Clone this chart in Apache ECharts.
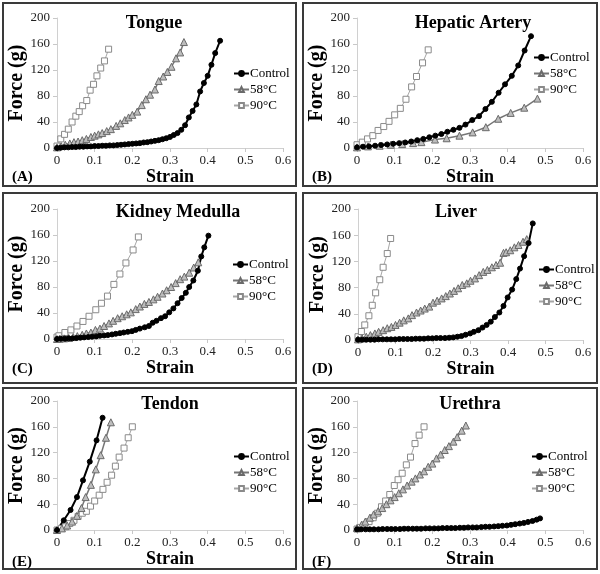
<!DOCTYPE html>
<html><head><meta charset="utf-8">
<script src="https://cdn.jsdelivr.net/npm/echarts@6/dist/echarts.min.js"></script>
<style>html,body{margin:0;padding:0;background:#fff}#c{width:600px;height:574px}</style>
</head><body><div id="c"></div>
<script>
// ---------- data ----------
const panelTitles = ['Tongue','Hepatic Artery','Kidney Medulla','Liver','Tendon','Urethra'];
const panelLetters = ['(A)','(B)','(C)','(D)','(E)','(F)'];
const seriesNames = ['Control','58°C','90°C'];
const xTicks = [0,0.1,0.2,0.3,0.4,0.5,0.6];
const yTicks = [0,40,80,120,160,200];

// (A) Tongue
const tongueControlStrain = [0,0.01,0.02,0.03,0.04,0.05,0.06,0.07,0.08,0.09,0.10,0.11,0.12,0.13,0.14,0.15,0.16,0.17,0.18,0.19,0.20,0.21,0.22,0.23,0.24,0.25,0.26,0.27,0.28,0.29,0.30,0.31,0.32,0.33,0.34,0.35,0.36,0.37,0.38,0.39,0.40,0.41,0.42,0.433];
const tongueControlForce  = [0,0.5,1,1,1.5,1.5,2,2,2.5,2.5,3,3,3.5,3.5,4,4,4.5,5,5.5,6,6.5,7,7.5,8.5,9,10,11,12,13.5,15,17,20,23,28,35,47,57,67,87,100,111,128,146,165];
const tongue58Strain = [0,0.011,0.022,0.034,0.045,0.056,0.067,0.078,0.09,0.1,0.11,0.12,0.132,0.143,0.157,0.168,0.18,0.19,0.2,0.213,0.225,0.236,0.247,0.26,0.27,0.282,0.293,0.304,0.316,0.327,0.337];
const tongue58Force  = [1,3,5,7,9,10,12,14,17,19,21,23,26,29,34,38,43,47,51,56,66,75,82,90,103,110,117,125,138,147,163];
const tongue90Strain = [0,0.01,0.02,0.03,0.04,0.05,0.059,0.068,0.079,0.088,0.097,0.106,0.116,0.126,0.137];
const tongue90Force  = [3,14,21,29,40,49,56,65,73,89,98,111,123,134,152];

// (B) Hepatic Artery
const hepaticControlStrain = [0,0.016,0.032,0.048,0.064,0.08,0.096,0.112,0.128,0.144,0.16,0.176,0.192,0.208,0.224,0.24,0.256,0.272,0.288,0.306,0.324,0.341,0.358,0.376,0.393,0.411,0.428,0.445,0.462];
const hepaticControlForce  = [1,2,2.5,3.5,4.5,5.5,6.5,7.5,8.5,10,12,14,16.5,19,21.5,25,28,31,36,43,49,60,71,85,98,111,127,150,172];
const hepatic58Strain = [0,0.029,0.06,0.09,0.12,0.149,0.171,0.207,0.238,0.272,0.307,0.342,0.375,0.408,0.444,0.479];
const hepatic58Force  = [1,2.5,3.5,5,6,7.5,9,13,15,19,24,32,45,54,62,76];
const hepatic90Strain = [0,0.014,0.028,0.042,0.056,0.071,0.085,0.1,0.115,0.13,0.145,0.158,0.174,0.189];
const hepatic90Force  = [5,9,14,19,27,33,41,51,61,75,94,110,131,151];

// (C) Kidney Medulla
const kidneyControlStrain = [0,0.01,0.021,0.031,0.041,0.052,0.062,0.072,0.083,0.093,0.104,0.114,0.125,0.135,0.146,0.156,0.167,0.177,0.188,0.199,0.209,0.22,0.233,0.244,0.254,0.264,0.276,0.287,0.298,0.309,0.32,0.331,0.342,0.351,0.362,0.374,0.383,0.391,0.402];
const kidneyControlForce  = [0,0.5,0.5,1,1,1.5,2,2.5,3,3.5,4,5,5.5,6,7,8,9,10,11,12,14,16,18,20,25,28,32,35,41,47,55,63,71,80,90,105,127,141,159];
const kidney58Strain = [0,0.007,0.019,0.031,0.043,0.054,0.067,0.078,0.09,0.102,0.114,0.125,0.138,0.149,0.161,0.173,0.185,0.196,0.209,0.22,0.232,0.244,0.256,0.267,0.28,0.291,0.303,0.315,0.327,0.338,0.351,0.363,0.375];
const kidney58Force  = [0,0.5,1,1.5,3,4.5,6.5,8.5,10,14,16,20,24,28,32,35,38,41,46,50,54,57,61,65,70,75,80,86,92,96,102,110,118];
const kidney90Strain = [0,0.005,0.021,0.037,0.053,0.069,0.085,0.103,0.118,0.134,0.151,0.167,0.183,0.202,0.216];
const kidney90Force  = [3,5,10,14,20,27,35,45,55,66,84,100,117,137,157];

// (D) Liver
const liverControlStrain = [0,0.011,0.022,0.033,0.044,0.055,0.066,0.077,0.088,0.099,0.11,0.121,0.132,0.143,0.154,0.165,0.176,0.187,0.198,0.209,0.22,0.232,0.243,0.254,0.265,0.276,0.287,0.299,0.309,0.321,0.332,0.343,0.354,0.365,0.377,0.388,0.399,0.411,0.422,0.432,0.443,0.455,0.466];
const liverControlForce  = [0.5,0.5,0.5,0.5,0.5,1,1,1,1,1,1.5,1.5,1.5,1.5,2,2,2,2.5,2.5,3,3,3,3.5,4,5,6,8,10,12.5,15,19,23,28,35,42,52,65,77,93,109,128,148,178];
const liver58Strain = [0,0.011,0.022,0.033,0.045,0.055,0.067,0.078,0.089,0.1,0.111,0.122,0.134,0.144,0.156,0.167,0.178,0.19,0.2,0.211,0.223,0.234,0.245,0.256,0.267,0.278,0.29,0.3,0.312,0.323,0.334,0.345,0.357,0.368,0.379,0.388,0.395,0.406,0.417,0.428,0.44,0.45];
const liver58Force  = [1,2.5,5,7.5,10,12.5,15,18,20,23,26.5,30,33,38,42,45,48,51,57,60,63.5,67,71,75,79,84,86.5,90.5,94,99,104,107,111,114.5,118,133,134,137,141.5,145,150,154];
const liver90Strain = [0,0.009,0.018,0.029,0.038,0.047,0.058,0.067,0.078,0.087];
const liver90Force  = [5,13,23,37,53,72,92,111,132,155];

// (E) Tendon
const tendonControlStrain = [0,0.018,0.036,0.053,0.069,0.087,0.105,0.121];
const tendonControlForce  = [0,15,31,51,77,106,139,174];
const tendon58Strain = [0,0.013,0.027,0.04,0.053,0.065,0.076,0.09,0.103,0.116,0.13,0.143];
const tendon58Force  = [0,2.5,7,13,22,34,51,70,94,116,143,167];
const tendon90Strain = [0,0.012,0.023,0.034,0.045,0.056,0.067,0.078,0.089,0.1,0.112,0.122,0.133,0.145,0.155,0.165,0.178,0.189,0.2];
const tendon90Force  = [0,2.5,5,10,15,21,26,29,37,45,54,63,74,85,99,113,127,143,160];

// (F) Urethra
const urethraControlStrain = [0,0.011,0.023,0.034,0.045,0.057,0.068,0.08,0.091,0.102,0.114,0.125,0.136,0.148,0.159,0.17,0.182,0.193,0.205,0.216,0.227,0.239,0.25,0.261,0.273,0.284,0.295,0.307,0.318,0.33,0.341,0.352,0.364,0.375,0.386,0.398,0.409,0.42,0.432,0.443,0.454,0.466,0.477,0.486];
const urethraControlForce  = [1,1,1,1,1,1,1.5,1.5,1.5,1.5,1.5,2,2,2,2,2,2.5,2.5,2.5,2.5,3,3,3,3,3.5,3.5,4,4,4,4.5,5,5,5.5,6,6.5,7,8,9,10,11,12.5,14,16,18];
const urethra58Strain = [0,0.012,0.022,0.034,0.044,0.056,0.067,0.078,0.089,0.1,0.111,0.122,0.133,0.145,0.155,0.167,0.178,0.189,0.2,0.211,0.222,0.233,0.244,0.256,0.266,0.278,0.289];
const urethra58Force  = [3,8,13,19,24,29,34,40,46,51,57,63,69,75,80,86,91,98,103,111,117,124,130,137,144,154,162];
const urethra90Strain = [0,0.009,0.02,0.032,0.043,0.054,0.065,0.076,0.087,0.099,0.109,0.12,0.131,0.142,0.154,0.165,0.178];
const urethra90Force  = [1.5,4,8,13,19,26,36,45,55,69,78,88,101,113,134,147,160];

const panelData = [
  [[tongueControlStrain,tongueControlForce],[tongue58Strain,tongue58Force],[tongue90Strain,tongue90Force]],
  [[hepaticControlStrain,hepaticControlForce],[hepatic58Strain,hepatic58Force],[hepatic90Strain,hepatic90Force]],
  [[kidneyControlStrain,kidneyControlForce],[kidney58Strain,kidney58Force],[kidney90Strain,kidney90Force]],
  [[liverControlStrain,liverControlForce],[liver58Strain,liver58Force],[liver90Strain,liver90Force]],
  [[tendonControlStrain,tendonControlForce],[tendon58Strain,tendon58Force],[tendon90Strain,tendon90Force]],
  [[urethraControlStrain,urethraControlForce],[urethra58Strain,urethra58Force],[urethra90Strain,urethra90Force]]
];

// ---------- layout ----------
const SERIF = '"Liberation Serif","Times New Roman",serif';
const grids = [
  {left:57, top:18, width:226, height:130},
  {left:357, top:18, width:226, height:130},
  {left:57, top:209, width:226, height:130},
  {left:358, top:209, width:225, height:131},
  {left:57, top:401, width:226, height:129},
  {left:357, top:401, width:226, height:129}
];
const boxes = [
  [3,3,293,183],[303,3,294,183],
  [3,193,293,190],[303,193,294,190],
  [3,388,293,181],[303,388,294,181]
];
const titleCenters = [[154,14],[473,14],[178,203],[456,203],[170,395],[470,395]];
const legendPos = [[233,67],[533,51],[232,258],[538,263],[233,450],[531,450]];
const letterPos = [[12,170],[312,170],[12,362],[312,362],[12,555],[312,555]];

const styles = [
  {color:'#000000', symbol:'circle', symbolSize:5, lineWidth:2, fill:'#000000', border:'#000000'},
  {color:'#767676', symbol:'triangle', symbolSize:7, lineWidth:1.5, fill:'#bdbdbd', border:'#6a6a6a'},
  {color:'#a6a6a6', symbol:'rect', symbolSize:6, lineWidth:1, fill:'#ffffff', border:'#8a8a8a'}
];

const option = {
  animation:false,
  backgroundColor:'#ffffff',
  grid: grids.map(g => Object.assign({containLabel:false}, g)),
  title: [],
  legend: [],
  xAxis: [],
  yAxis: [],
  series: [],
  graphic: boxes.map(b => ({type:'rect', shape:{x:b[0],y:b[1],width:b[2],height:b[3]}, style:{fill:null, stroke:'#3a3a3a', lineWidth:2}, silent:true}))
};

for (let i=0;i<6;i++){
  option.title.push({text:panelTitles[i], left:titleCenters[i][0], top:titleCenters[i][1], textAlign:'center', padding:0,
    textStyle:{fontFamily:SERIF, fontWeight:'bold', fontSize:18, color:'#000'}});
  option.title.push({text:panelLetters[i], left:letterPos[i][0], top:letterPos[i][1], padding:0,
    textStyle:{fontFamily:SERIF, fontWeight:'bold', fontSize:15, color:'#000'}});
  option.legend.push({data:seriesNames, left:legendPos[i][0], top:legendPos[i][1], orient:'vertical', padding:0,
    itemWidth:15, itemHeight:6, itemGap:3, selectedMode:false,
    textStyle:{fontFamily:SERIF, fontSize:13, color:'#000', padding:[0,0,0,-4]}});
  option.xAxis.push({type:'value', gridIndex:i, min:xTicks[0], max:xTicks[xTicks.length-1], interval:0.1,
    name:'Strain', nameLocation:'middle', nameGap:17,
    nameTextStyle:{fontFamily:SERIF, fontWeight:'bold', fontSize:18, color:'#000'},
    axisLine:{show:true, lineStyle:{color:'#d0d0d0', width:1}},
    axisTick:{show:true, length:4, lineStyle:{color:'#c8c8c8'}},
    axisLabel:{fontFamily:SERIF, fontSize:13, color:'#222', margin:6},
    splitLine:{show:false}});
  option.yAxis.push({type:'value', gridIndex:i, min:yTicks[0], max:yTicks[yTicks.length-1], interval:40,
    name:'Force (g)', nameLocation:'middle', nameGap:30,
    nameTextStyle:{fontFamily:SERIF, fontWeight:'bold', fontSize:20, color:'#000'},
    axisLine:{show:true, lineStyle:{color:'#d0d0d0', width:1}},
    axisTick:{show:true, length:4, lineStyle:{color:'#c8c8c8'}},
    axisLabel:{fontFamily:SERIF, fontSize:13, color:'#222', margin:7},
    splitLine:{show:false}});
  for (let s=2;s>=0;s--){
    const st = styles[s];
    const xs = panelData[i][s][0], ys = panelData[i][s][1];
    option.series.push({
      type:'line', name:seriesNames[s], xAxisIndex:i, yAxisIndex:i,
      data: xs.map((x,k)=>[x, ys[k]]),
      symbol:st.symbol, symbolSize:st.symbolSize, showSymbol:true,
      lineStyle:{color:st.color, width:st.lineWidth},
      itemStyle:{color:st.fill, borderColor:st.border, borderWidth:1},
      emphasis:{disabled:true}
    });
  }
}

const chart = echarts.init(document.getElementById('c'), null, {renderer:'canvas'});
chart.setOption(option);
</script></body></html>
